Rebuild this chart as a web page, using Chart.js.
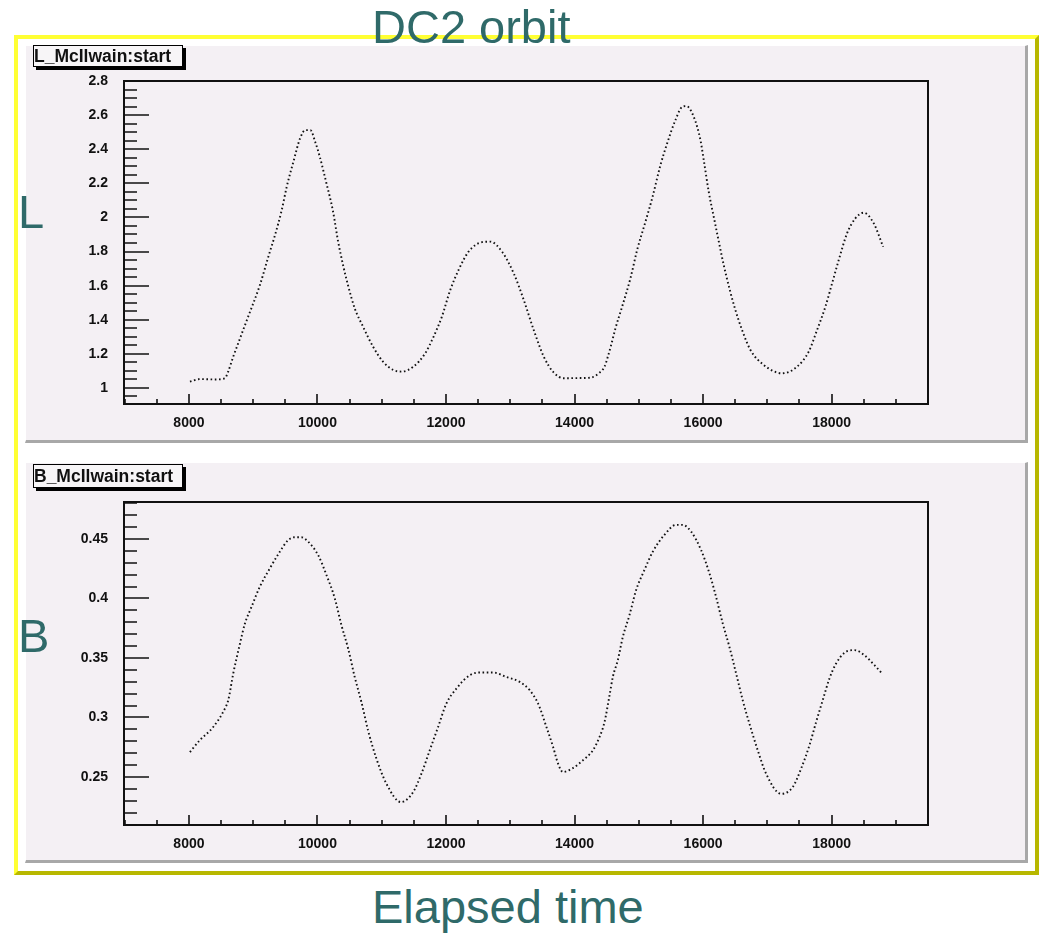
<!DOCTYPE html>
<html>
<head>
<meta charset="utf-8">
<title>DC2 orbit</title>
<script src="https://cdn.jsdelivr.net/npm/chart.js"></script>
<style>
  body { margin: 0; background: #fff; font-family: "Liberation Sans", Arial, sans-serif; }
  #page { position: relative; width: 1039px; height: 934px; overflow: hidden; }
  .abs { position: absolute; }
  #frame { left: 14px; top: 35px; width: 1025px; height: 840px; box-sizing: border-box;
           border: 4px solid; border-color: #ffff33 #b8b800 #b8b800 #ffff33; }
  .pad { background: #f4f0f4; box-sizing: border-box;
         border-top: 1px solid #ffffff; border-left: 1px solid #ffffff;
         border-right: 3px solid #a8a8a8; border-bottom: 3px solid #a8a8a8; }
  .big { font-size: 47px; line-height: 47px; color: #2f6a69; white-space: nowrap; }
  .tag { background: #f7f5f7; border: 1.5px solid #000; box-shadow: 3px 3px 0 #000;
         font-weight: bold; font-size: 17.5px; white-space: nowrap; overflow: hidden;
         box-sizing: border-box; padding-left: 0; color: #111; }
  canvas { position: absolute; }
</style>
</head>
<body>
<div id="page">
  <div id="frame" class="abs"></div>
  <div class="abs pad" style="left:25px; top:45px; width:1003px; height:398px;"></div>
  <div class="abs pad" style="left:25px; top:462px; width:1003px; height:401px;"></div>

  <canvas id="chartL" width="1000" height="395" style="left:25px; top:45px;"></canvas>
  <canvas id="chartB" width="1000" height="398" style="left:25px; top:462px;"></canvas>

  <div class="abs tag" style="left:33px; top:45px; width:150px; height:22px; line-height:20px;">L_McIlwain:start</div>
  <div class="abs tag" style="left:33px; top:464px; width:150px; height:24px; line-height:22px;">B_McIlwain:start</div>

  <div class="abs big" style="left:372px; top:3px;">DC2 orbit</div>
  <div class="abs big" style="left:18px; top:188px;">L</div>
  <div class="abs big" style="left:18px; top:612px;">B</div>
  <div class="abs big" style="left:372px; top:883px;">Elapsed time</div>
</div>

<script>
// --- data (elapsed time vs McIlwain L / B) ---
const timesL = [8016, 8170, 8400, 8560, 8611, 8689, 8767, 8844, 8922, 9105, 9236, 9340, 9444, 9522,
  9626, 9730, 9810, 9890, 9964, 10036, 10140, 10240, 10321, 10399, 10477, 10580, 10710, 10865,
  11021, 11176, 11313, 11494, 11676, 11806, 11936, 12066, 12196, 12351, 12560, 12690, 12872,
  13054, 13210, 13365, 13521, 13677, 13833, 14050, 14248, 14389, 14467, 14518, 14570, 14637,
  14741, 14870, 14974, 15104, 15208, 15337, 15441, 15570, 15680, 15740, 15855, 15959, 16011,
  16088, 16166, 16244, 16322, 16410, 16503, 16607, 16737, 16944, 17230, 17463, 17644, 17774,
  17904, 18008, 18111, 18241, 18370, 18500, 18656, 18802];
const valuesL = [1.037, 1.052, 1.050, 1.057, 1.096, 1.183, 1.262, 1.340, 1.418, 1.604, 1.770, 1.897, 2.043, 2.180,
  2.327, 2.464, 2.512, 2.512, 2.444, 2.356, 2.200, 2.040, 1.860, 1.720, 1.600, 1.467, 1.359, 1.242,
  1.154, 1.106, 1.096, 1.125, 1.203, 1.300, 1.418, 1.574, 1.692, 1.799, 1.855, 1.858, 1.799,
  1.672, 1.516, 1.340, 1.184, 1.090, 1.057, 1.058, 1.060, 1.090, 1.125, 1.183, 1.252, 1.350,
  1.477, 1.643, 1.809, 1.975, 2.112, 2.307, 2.434, 2.571, 2.650, 2.653, 2.590, 2.454, 2.336,
  2.151, 2.004, 1.860, 1.720, 1.584, 1.457, 1.340, 1.223, 1.135, 1.086, 1.125, 1.213, 1.340,
  1.477, 1.614, 1.750, 1.907, 1.995, 2.028, 1.965, 1.828];

const timesB = [8016, 8171, 8378, 8560, 8612, 8690, 8794, 8872, 8975, 9105, 9260, 9415, 9545, 9650,
  9750, 9855, 10010, 10140, 10270, 10373, 10477, 10580, 10684, 10788, 10918, 11073, 11300,
  11488, 11618, 11747, 11877, 12006, 12162, 12369, 12525, 12732, 12940, 13148, 13303, 13433,
  13563, 13667, 13744, 13819, 13974, 14130, 14285, 14389, 14467, 14545, 14596, 14674, 14752,
  14855, 14959, 15088, 15218, 15399, 15580, 15680, 15814, 15969, 16099, 16202, 16306, 16410,
  16514, 16617, 16721, 16851, 16981, 17214, 17395, 17525, 17655, 17759, 17862, 17966, 18070,
  18200, 18355, 18510, 18666, 18785];
const valuesB = [0.271, 0.281, 0.292, 0.3075, 0.3145, 0.337, 0.362, 0.379, 0.393, 0.410, 0.4253, 0.4393, 0.449, 0.4514,
  0.4514, 0.4477, 0.4365, 0.4197, 0.400, 0.3776, 0.358, 0.334, 0.313, 0.289, 0.2654, 0.2444, 0.2289,
  0.2373, 0.2528, 0.2724, 0.292, 0.3117, 0.3243, 0.3355, 0.3378, 0.3378, 0.334, 0.3299, 0.3229, 0.3117,
  0.292, 0.2752, 0.2612, 0.2542, 0.2575, 0.264, 0.2724, 0.2836, 0.2962, 0.3187, 0.334, 0.3482, 0.3678,
  0.386, 0.4071, 0.4239, 0.4393, 0.4534, 0.4618, 0.4618, 0.4561, 0.4407, 0.4211, 0.4014, 0.379, 0.3593,
  0.337, 0.3145, 0.2949, 0.2724, 0.2528, 0.2359, 0.2415, 0.257, 0.2766, 0.2962, 0.3145, 0.3327, 0.3454,
  0.3543, 0.3566, 0.3524, 0.344, 0.337];

// tick labels
const xTicks = [8000, 10000, 12000, 14000, 16000, 18000];
const yTicksL = [1, 1.2, 1.4, 1.6, 1.8, 2, 2.2, 2.4, 2.6, 2.8];
const yTicksB = [0.25, 0.3, 0.35, 0.4, 0.45];

const TICK_FONT = { family: '"Liberation Sans", Arial, sans-serif', size: 14, weight: 'bold' };

// ROOT style frame: box round the plot area, ticks drawn inwards
const rootFrame = {
  id: 'rootFrame',
  afterDraw(chart, args, opts) {
    const { ctx, chartArea: a, scales } = chart;
    ctx.save();
    ctx.strokeStyle = '#111';
    ctx.lineWidth = 2;
    ctx.strokeRect(a.left, a.top, a.right - a.left, a.bottom - a.top);

    ctx.lineWidth = 1.6;
    ctx.beginPath();
    // x axis ticks (up from bottom edge)
    const xs = scales.x;
    for (let v = Math.ceil(xs.min / opts.xMinor) * opts.xMinor; v <= xs.max; v += opts.xMinor) {
      const px = Math.round(xs.getPixelForValue(v));
      const major = xTicks.includes(v);
      ctx.moveTo(px, a.bottom);
      ctx.lineTo(px, a.bottom - (major ? 10 : 5));
    }
    // y axis ticks (right from left edge)
    const ys = scales.y;
    const n0 = Math.ceil(ys.min / opts.yMinor - 1e-6);
    for (let n = n0; n * opts.yMinor <= ys.max + 1e-9; n++) {
      const v = n * opts.yMinor;
      const py = Math.round(ys.getPixelForValue(v));
      const major = opts.yMajor.some(t => Math.abs(t - v) < 1e-6);
      ctx.moveTo(a.left, py);
      ctx.lineTo(a.left + (major ? 25 : 13), py);
    }
    ctx.stroke();
    ctx.restore();
  }
};

function makeChart(id, times, values, yMin, yMax, yTicks, yMinor, padTop, xHeight) {
  return new Chart(document.getElementById(id), {
    type: 'scatter',
    data: {
      datasets: [{
        data: times.map((t, i) => ({ x: t, y: values[i] })),
        showLine: true,
        borderColor: '#111',
        borderWidth: 1.9,
        borderDash: [1.6, 2.6],
        cubicInterpolationMode: 'monotone',
        pointRadius: 0
      }]
    },
    options: {
      responsive: false,
      animation: false,
      devicePixelRatio: 1,
      layout: { padding: { left: 0, right: 97, top: padTop, bottom: 0 } },
      plugins: {
        legend: { display: false },
        tooltip: { enabled: false },
        rootFrame: { xMinor: 500, yMinor: yMinor, yMajor: yTicks }
      },
      scales: {
        x: {
          type: 'linear', min: 6990, max: 19500,
          grid: { display: false }, border: { display: false },
          afterBuildTicks: s => { s.ticks = xTicks.map(v => ({ value: v })); },
          afterFit: s => { s.height = xHeight; },
          ticks: { font: TICK_FONT, color: '#111', padding: 3, maxRotation: 0,
                   callback: v => String(v) }
        },
        y: {
          type: 'linear', min: yMin, max: yMax,
          grid: { display: false }, border: { display: false },
          afterBuildTicks: s => { s.ticks = yTicks.map(v => ({ value: v })); },
          afterFit: s => { s.width = 99; },
          ticks: { font: TICK_FONT, color: '#111', padding: 8,
                   callback: v => String(v) }
        }
      }
    },
    plugins: [rootFrame]
  });
}

makeChart('chartL', timesL, valuesL, 0.906, 2.8, yTicksL, 0.05, 36, 36);
makeChart('chartB', timesB, valuesB, 0.2097, 0.481, yTicksB, 0.01, 40, 35);
</script>
</body>
</html>
